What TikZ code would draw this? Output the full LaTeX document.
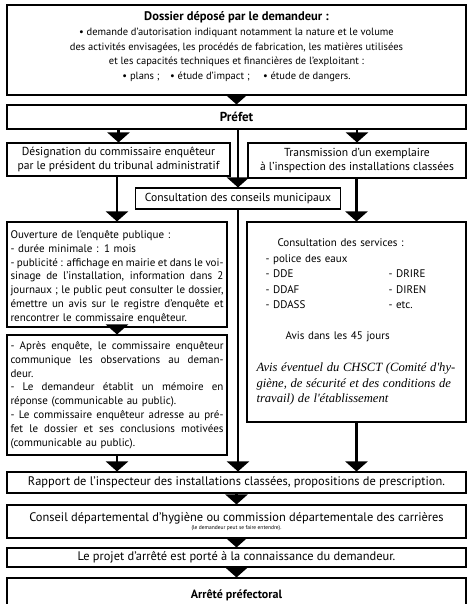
\documentclass[tikz,border=0pt]{standalone}
\usepackage{fontspec}
\setmainfont{PT Sans}
\newfontfamily\serifit{Liberation Serif}
\usetikzlibrary{calc,arrows.meta}
\newcommand{\jline}[1]{{\spaceskip=0pt\xspaceskip=0pt\makebox[213pt][s]{#1}}}

\begin{document}
\begin{tikzpicture}[x=1pt,y=-1pt,
		box/.style={draw,line width=1.1pt,inner sep=0pt,align=center,font=\fontsize{11.6}{13.5}\selectfont},
		wide/.style={box,minimum width=459pt,font=\fontsize{12.4}{14}\selectfont},
		txtbox/.style={box,minimum width=220pt,text width=213pt,align=left,font=\fontsize{11}{13.8}\selectfont},
		flow/.style={line width=2.4pt,-{Triangle[width=22pt,length=10pt]}}]
	\useasboundingbox (0,0) rectangle (468,604);
	\node[box,minimum width=459pt,minimum height=90pt,font=\fontsize{10.5}{14.8}\selectfont] (dossier) at (236.5,50) {{\fontsize{12.5}{14}\selectfont\textbf{Dossier déposé par le demandeur :}}\\
		• demande d'autorisation indiquant notamment la nature et le volume\\
		des activités envisagées, les procédés de fabrication, les matières utilisées\\
		et les capacités techniques et financières de l'exploitant :\\
		• plans ;\quad • étude d'impact ;\quad\ • étude de dangers.\\[-6pt]\mbox{}};
	\node[box,minimum width=459pt,minimum height=24pt,font=\fontsize{13}{14}\selectfont] (prefet) at (236.5,117) {\textbf{Préfet}};
	\node[box,minimum width=223pt,minimum height=33pt] (design) at (118.5,159.5) {Désignation du commissaire enquêteur\\ par le président du tribunal administratif};
	\node[box,minimum width=218pt,minimum height=35pt] (transm) at (357,160.5) {Transmission d'un exemplaire\\ à l'inspection des installations classées};
	\node[box,minimum width=205pt,minimum height=21pt] (conseils) at (238,198.5) {Consultation des conseils municipaux};
	\node[txtbox,minimum height=105pt] (ouvert) at (117,274.5) {\mbox{}\\[-1pt]
		Ouverture de l'enquête publique :\\
		- durée minimale : 1 mois\\
		\jline{- publicité : affichage en mairie et dans le voi-}\\
		\jline{sinage de l'installation, information dans 2}\\
		\jline{journaux ; le public peut consulter le dossier,}\\
		\jline{émettre un avis sur le registre d'enquête et}\\
		rencontrer le commissaire enquêteur.};
	\node[txtbox,minimum height=120pt] (apres) at (117,395) {\jline{- Après enquête, le commissaire enquêteur}\\
		\jline{communique les observations au deman-}\\
		deur.\\
		\jline{- Le demandeur établit un mémoire en}\\
		réponse (communicable au public).\\
		\jline{- Le commissaire enquêteur adresse au pré-}\\
		\jline{fet le dossier et ses conclusions motivées}\\
		(communicable au public).};
	\node[box,minimum width=219pt,minimum height=200pt,text width=200pt,align=left,font=\fontsize{11}{15.5}\selectfont] (services) at (356.5,322) {\hspace*{21pt}Consultation des services :\\
		\hspace*{9pt}- police des eaux\\
		\hspace*{9pt}\makebox[123pt][l]{- DDE}- DRIRE\\
		\hspace*{9pt}\makebox[123pt][l]{- DDAF}- DIREN\\
		\hspace*{9pt}\makebox[123pt][l]{- DDASS}- etc.\\[15pt]
		\hspace*{29pt}Avis dans les 45 jours\\[16pt]
		{\serifit\itshape\fontsize{12.6}{16}\selectfont Avis éventuel du CHSCT (Comité d'hy-\\
		giène, de sécurité et des conditions de\\
		travail) de l'établissement}};
	\node[wide,minimum height=21pt] (rapport) at (236.5,482.5) {Rapport de l'inspecteur des installations classées, propositions de prescription.};
	\node[wide,minimum height=33pt] (cdh) at (236.5,521.5) {Conseil départemental d'hygiène ou commission départementale des carrières\\[-6pt]
		{\fontsize{5.5}{6}\selectfont (le demandeur peut se faire entendre).}};
	\node[wide,minimum height=19pt] (projet) at (236.5,557.5) {Le projet d'arrêté est porté à la connaissance du demandeur.};
	\node[box,minimum width=459pt,minimum height=34pt,font=\fontsize{12}{14}\selectfont] (arrete) at (236.5,595) {\textbf{Arrêté préfectoral}};
	\draw[flow] (dossier.south) -- (prefet.north);
	\draw[flow] (prefet.south -| design.north) -- (design.north);
	\draw[flow] (prefet.south -| transm.north) -- (transm.north);
	\draw[flow] (prefet.south -| conseils.north) -- (conseils.north);
	\draw[flow] (design.south -| ouvert.north) -- (ouvert.north);
	\draw[flow] (transm.south -| services.north) -- (services.north);
	\draw[flow] (ouvert.south) -- (apres.north);
	\draw[flow] (apres.south) -- (apres.south |- rapport.north);
	\draw[flow] (conseils.south) -- (conseils.south |- rapport.north);
	\draw[flow] (services.south) -- (services.south |- rapport.north);
	\draw[flow] (rapport.south) -- (cdh.north);
	\draw[flow] (cdh.south) -- (projet.north);
	\draw[flow] (projet.south) -- (arrete.north);
\end{tikzpicture}
\end{document}
